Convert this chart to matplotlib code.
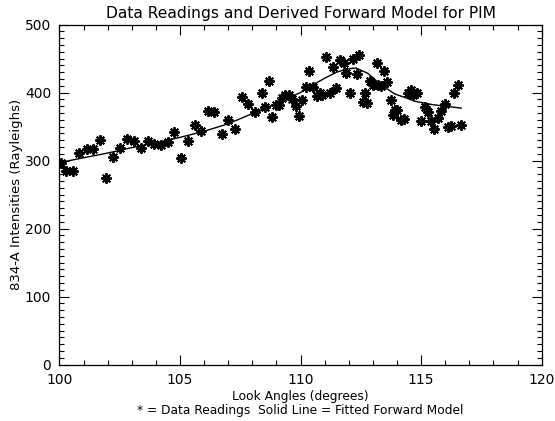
import matplotlib
matplotlib.use("Agg")
import matplotlib.pyplot as plt
from matplotlib.ticker import MultipleLocator

# Data readings (look angle in degrees, intensity in Rayleighs)
angles = [100.06, 100.26, 100.55, 100.82, 101.13, 101.38, 101.68, 101.93, 102.23, 102.51,
          102.79, 103.08, 103.37, 103.66, 103.91, 104.20, 104.49, 104.75, 105.04, 105.32,
          105.60, 105.87, 106.15, 106.42, 106.73, 107.00, 107.28, 107.56, 107.83, 108.11,
          108.39, 108.53, 108.69, 108.83, 108.97, 109.10, 109.22, 109.36, 109.50, 109.66,
          109.81, 109.94, 110.07, 110.23, 110.35, 110.50, 110.67, 110.81, 110.88, 111.06,
          111.20, 111.34, 111.47, 111.64, 111.78, 111.89, 112.05, 112.19, 112.33, 112.44,
          112.60, 112.68, 112.75, 112.88, 113.02, 113.16, 113.23, 113.33, 113.46, 113.58,
          113.74, 113.85, 113.92, 113.99, 114.17, 114.27, 114.47, 114.58, 114.68, 114.82,
          115.00, 115.14, 115.28, 115.41, 115.55, 115.69, 115.83, 115.97, 116.11, 116.25,
          116.38, 116.52, 116.66]
readings = [296, 284, 285, 311, 317, 317, 330, 275, 305, 318,
            332, 328, 318, 328, 325, 323, 327, 342, 304, 328,
            352, 344, 373, 371, 339, 359, 346, 394, 383, 371,
            400, 378, 417, 364, 381, 382, 392, 397, 397, 390,
            380, 365, 389, 408, 432, 408, 395, 400, 396, 452,
            399, 438, 407, 448, 443, 429, 400, 450, 427, 455,
            386, 399, 385, 417, 411, 443, 411, 410, 432, 416,
            389, 367, 374, 374, 360, 361, 399, 404, 396, 399,
            358, 379, 371, 358, 346, 363, 373, 383, 350, 351,
            400, 411, 352]

# Fitted forward model
model_x = [100.0, 101.0, 102.0, 103.0, 104.0, 105.0, 106.0, 107.0, 108.0, 109.0,
           110.0, 110.6, 111.0, 111.5, 112.0, 112.3, 112.8, 113.3, 113.9, 114.3,
           114.75, 115.5, 116.0, 116.66]
model_y = [297, 304, 311, 319, 326, 334, 343, 354, 369, 384,
           400, 413, 421, 430, 435, 436, 428, 412, 398, 393,
           387, 382, 380, 377]

title = "Data Readings and Derived Forward Model for PIM"
xlabel = "Look Angles (degrees)\n* = Data Readings  Solid Line = Fitted Forward Model"
ylabel = "834-A Intensities (Rayleighs)"

plt.rcParams['font.family'] = ['DejaVu Sans']
fig = plt.figure(figsize=(5.55, 4.21), dpi=100)
ax = fig.add_axes([0.1072, 0.1342, 0.8688, 0.8076])

ax.plot(model_x, model_y, color='black', lw=1.0)
ax.plot(angles, readings, linestyle='none', marker=(8, 2, 0), markersize=7.5,
        markeredgewidth=1.4, color='black')

ax.set_xlim(100, 120)
ax.set_ylim(0, 500)
ax.xaxis.set_major_locator(MultipleLocator(5))
ax.xaxis.set_minor_locator(MultipleLocator(1))
ax.yaxis.set_major_locator(MultipleLocator(100))
ax.yaxis.set_minor_locator(MultipleLocator(10))
ax.tick_params(which='both', direction='in', top=True, right=True, labelsize=10,
               width=0.8, pad=6)
ax.tick_params(which='major', length=7)
ax.tick_params(which='minor', length=3.5)
for s in ax.spines.values():
    s.set_linewidth(0.9)

ax.set_title(title, fontsize=11.2, pad=5)
ax.set_xlabel(xlabel, fontsize=8.8, labelpad=2, linespacing=1.15)
ax.set_ylabel(ylabel, fontsize=9.5, labelpad=1)

fig.savefig("out.png", dpi=100)
